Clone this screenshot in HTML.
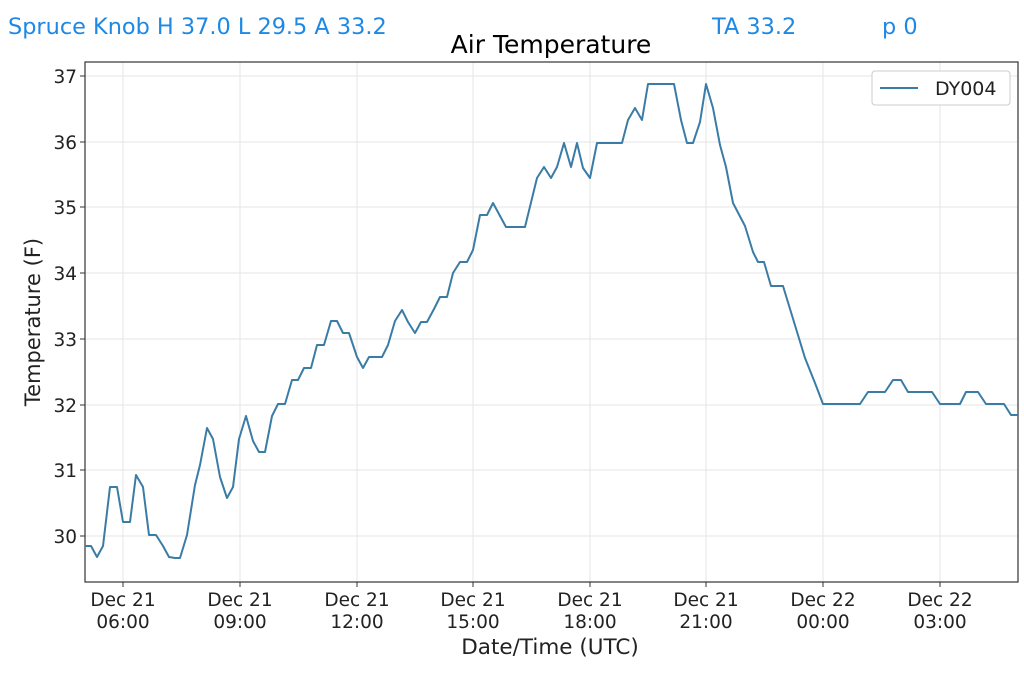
<!DOCTYPE html>
<html><head><style>
body{margin:0;background:#fff;width:1024px;height:672px;overflow:hidden;font-family:"Liberation Sans","DejaVu Sans",sans-serif}
</style></head><body>
<svg width="1024" height="672" xmlns="http://www.w3.org/2000/svg" font-family="DejaVu Sans, Liberation Sans, sans-serif">
<rect width="1024" height="672" fill="#fff"/>
<text x="8" y="34" font-size="22.4" fill="#1e88e5">Spruce Knob H 37.0 L 29.5 A 33.2</text>
<text x="712" y="34" font-size="22.4" fill="#1e88e5">TA 33.2</text>
<text x="882" y="34" font-size="22.4" fill="#1e88e5">p 0</text>
<text x="551" y="53" font-size="25" text-anchor="middle" fill="#000">Air Temperature</text>
<g stroke="#e6e6e6" stroke-width="1">
<line x1="123" y1="62" x2="123" y2="582"/><line x1="240" y1="62" x2="240" y2="582"/><line x1="357" y1="62" x2="357" y2="582"/><line x1="473" y1="62" x2="473" y2="582"/><line x1="590" y1="62" x2="590" y2="582"/><line x1="706" y1="62" x2="706" y2="582"/><line x1="823" y1="62" x2="823" y2="582"/><line x1="940" y1="62" x2="940" y2="582"/>
<line x1="85" y1="76" x2="1018" y2="76"/><line x1="85" y1="142" x2="1018" y2="142"/><line x1="85" y1="207" x2="1018" y2="207"/><line x1="85" y1="273" x2="1018" y2="273"/><line x1="85" y1="339" x2="1018" y2="339"/><line x1="85" y1="405" x2="1018" y2="405"/><line x1="85" y1="470" x2="1018" y2="470"/><line x1="85" y1="536" x2="1018" y2="536"/>
</g>
<rect x="85" y="62" width="933" height="520" fill="none" stroke="#333" stroke-width="1.2"/>
<g stroke="#333"><line x1="80" y1="76" x2="85" y2="76"/><line x1="80" y1="142" x2="85" y2="142"/><line x1="80" y1="207" x2="85" y2="207"/><line x1="80" y1="273" x2="85" y2="273"/><line x1="80" y1="339" x2="85" y2="339"/><line x1="80" y1="405" x2="85" y2="405"/><line x1="80" y1="470" x2="85" y2="470"/><line x1="80" y1="536" x2="85" y2="536"/>
<line x1="123" y1="582" x2="123" y2="587"/><line x1="240" y1="582" x2="240" y2="587"/><line x1="357" y1="582" x2="357" y2="587"/><line x1="473" y1="582" x2="473" y2="587"/><line x1="590" y1="582" x2="590" y2="587"/><line x1="706" y1="582" x2="706" y2="587"/><line x1="823" y1="582" x2="823" y2="587"/><line x1="940" y1="582" x2="940" y2="587"/></g>
<g font-size="18.5" text-anchor="end" fill="#222">
<text x="77" y="83">37</text><text x="77" y="149">36</text><text x="77" y="214">35</text><text x="77" y="280">34</text><text x="77" y="346">33</text><text x="77" y="412">32</text><text x="77" y="477">31</text><text x="77" y="543">30</text></g>
<g font-size="18.5" text-anchor="middle" fill="#222">
<text x="123" y="606">Dec 21</text><text x="123" y="628">06:00</text>
<text x="240" y="606">Dec 21</text><text x="240" y="628">09:00</text>
<text x="357" y="606">Dec 21</text><text x="357" y="628">12:00</text>
<text x="473" y="606">Dec 21</text><text x="473" y="628">15:00</text>
<text x="590" y="606">Dec 21</text><text x="590" y="628">18:00</text>
<text x="706" y="606">Dec 21</text><text x="706" y="628">21:00</text>
<text x="823" y="606">Dec 22</text><text x="823" y="628">00:00</text>
<text x="940" y="606">Dec 22</text><text x="940" y="628">03:00</text></g>
<text x="550" y="654" font-size="21.5" text-anchor="middle" fill="#222">Date/Time (UTC)</text>
<text transform="translate(40,322) rotate(-90)" font-size="21" text-anchor="middle" fill="#222">Temperature (F)</text>
<polyline fill="none" stroke="#3a7ca5" stroke-width="2" stroke-linejoin="round" points="85,546 91,546 97,557 103,546 110,487 117,487 123,522 130,522 136,475 143,487 149,535 156,535 163,546 169,557 175,558 180,558 187,535 195,485 200,465 207,428 213,439 220,477 227,498 233,487 239,439 246,416 253,441 259,452 265,452 272,416 278,404 285,404 292,380 298,380 304,368 311,368 317,345 324,345 331,321 337,321 343,333 349,333 357,357 363,368 369,357 382,357 388,345 395,321 402,310 408,322 415,333 421,322 427,322 434,309 440,297 447,297 453,273 460,262 467,262 473,250 480,215 487,215 493,203 506,227 525,227 537,178 544,167 551,178 557,167 564,143 571,167 577,143 583,168 590,178 597,143 622,143 628,120 635,108 642,120 648,84 674,84 681,120 687,143 693,143 700,122 706,84 713,108 720,145 726,167 733,203 745,226 753,252 758,262 764,262 771,286 783,286 805,358 815,383 823,404 860,404 868,392 885,392 893,380 901,380 908,392 932,392 940,404 960,404 966,392 978,392 986,404 1004,404 1011,415 1018,415"/>
<rect x="872" y="71" width="138" height="34" rx="3" fill="#fff" stroke="#ccc"/>
<line x1="880" y1="88" x2="918" y2="88" stroke="#3a7ca5" stroke-width="2"/>
<text x="935" y="95" font-size="19" fill="#222">DY004</text>
</svg>
</body></html>
